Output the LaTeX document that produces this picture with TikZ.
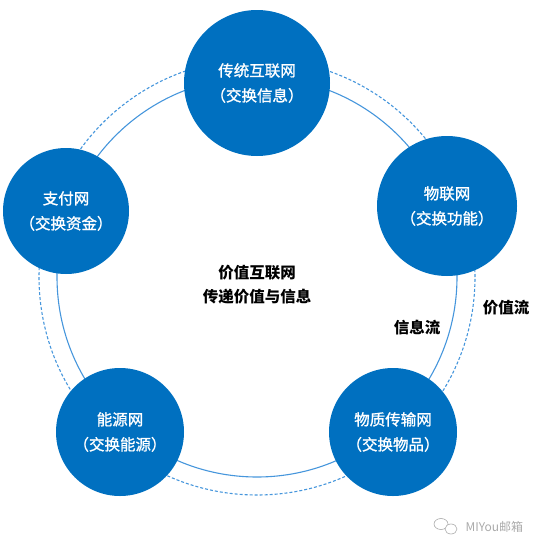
\documentclass[tikz,border=0pt]{standalone}
\usepackage{fontspec}
\newfontfamily\cjk{Noto Sans CJK SC}
\newfontfamily\cjkmed[FakeBold=1.2]{Noto Sans CJK SC}
\definecolor{nodeblue}{RGB}{0,112,192}
\definecolor{ringblue}{RGB}{70,150,220}
\definecolor{wmgray}{RGB}{170,170,170}
\begin{document}
\begin{tikzpicture}[x=1pt,y=-1pt,
  netnode/.style={circle,fill=nodeblue,draw=none,text=white,align=center,inner sep=0pt,
    font=\cjkmed\fontsize{15.5}{25}\selectfont},
  ring/.style={draw=ringblue,line width=1.1pt},
  dashring/.style={draw=ringblue,line width=1.1pt,dash pattern=on 3pt off 2pt},
  lbl/.style={align=center,text=black,font=\cjk\bfseries\fontsize{15.5}{24}\selectfont}]
\useasboundingbox (0,0) rectangle (544,554);
\coordinate (ctr) at (257,277);
\draw[ring] (ctr) circle (200pt);
\draw[dashring] (ctr) circle (218pt);
\node[netnode,minimum size=146pt] (top) at (257,83) {传统互联网\\（交换信息）};
\node[netnode,minimum size=140pt] (iot) at (447,206) {物联网\\（交换功能）};
\node[netnode,minimum size=126pt] (pay) at (66,211) {支付网\\（交换资金）};
\node[netnode,minimum size=128pt] (log) at (393,432) {物质传输网\\（交换物品）};
\node[netnode,minimum size=128pt] (ene) at (120,432) {能源网\\（交换能源）};
\node[lbl] (center) at (257,285) {价值互联网\\传递价值与信息};
\node[lbl] (info) at (417,328) {信息流};
\node[lbl] (value) at (506,308) {价值流};
\node[text=wmgray,font=\cjk\fontsize{12}{12}\selectfont,anchor=west] (wm) at (462,527) {MIYou邮箱};
\draw[wmgray,line width=0.6pt] (441,524) ellipse (7pt and 5.5pt);
\draw[wmgray,line width=0.6pt,fill=white] (451,529) ellipse (6pt and 5pt);
\end{tikzpicture}
\end{document}
